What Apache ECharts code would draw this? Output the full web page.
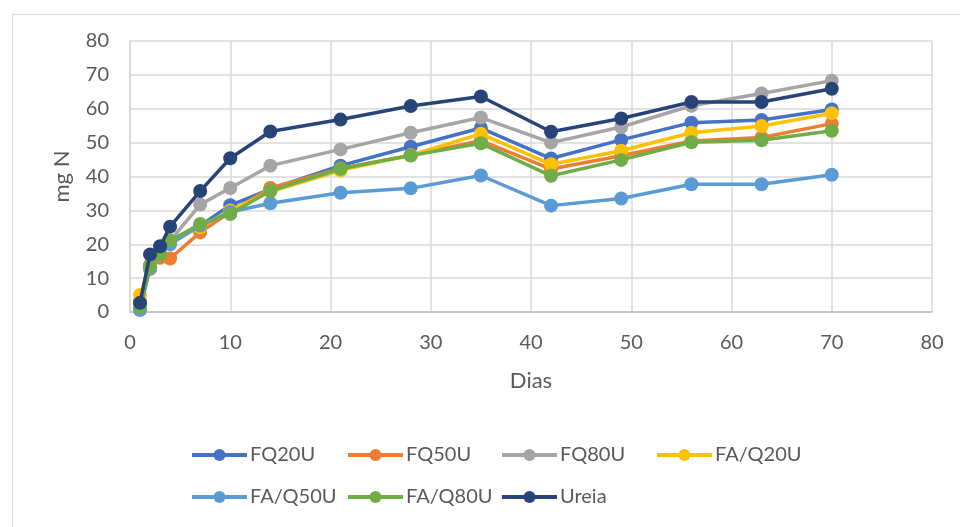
<!DOCTYPE html>
<html>
<head>
<meta charset="utf-8">
<script src="https://cdn.jsdelivr.net/npm/echarts@6/dist/echarts.min.js"></script>
<style>html,body{margin:0;padding:0;background:#fff;}#c{width:960px;height:527px;}</style>
</head>
<body>
<div id="c"></div>
<script>
const days = [1, 2, 3, 4, 7, 10, 14, 21, 28, 35, 42, 49, 56, 63, 70];
const seriesNames = ['FQ20U', 'FQ50U', 'FQ80U', 'FA/Q20U', 'FA/Q50U', 'FA/Q80U', 'Ureia'];
const FQ20U   = [3.0, 13.0, 17.0, 21.0, 25.5, 31.5, 36.3, 43.2, 48.8, 54.3, 45.3, 50.8, 55.9, 56.7, 59.8];
const FQ50U   = [3.0, 12.7, 16.0, 15.8, 23.5, 29.5, 36.6, 42.4, 46.3, 50.6, 42.2, 46.1, 50.5, 51.5, 55.6];
const FQ80U   = [3.0, 14.0, 17.0, 21.0, 31.7, 36.6, 43.2, 48.0, 52.9, 57.4, 50.0, 54.6, 60.9, 64.5, 68.3];
const FAQ20U  = [5.0, 13.0, 17.0, 21.0, 25.0, 30.0, 35.5, 41.8, 46.3, 52.6, 43.6, 47.6, 52.9, 54.9, 58.7];
const FAQ50U  = [0.6, 13.0, 17.0, 20.0, 25.5, 29.5, 32.1, 35.2, 36.5, 40.3, 31.4, 33.5, 37.7, 37.7, 40.5];
const FAQ80U  = [1.5, 13.5, 17.0, 21.0, 26.0, 28.9, 35.8, 42.3, 46.2, 49.8, 40.2, 44.9, 50.1, 50.7, 53.5];
const Ureia   = [2.7, 17.0, 19.4, 25.2, 35.7, 45.4, 53.3, 56.8, 60.8, 63.6, 53.2, 57.1, 62.0, 62.0, 65.9];
const xTicks = [0, 10, 20, 30, 40, 50, 60, 70, 80];
const yTicks = [0, 10, 20, 30, 40, 50, 60, 70, 80];

const values = [FQ20U, FQ50U, FQ80U, FAQ20U, FAQ50U, FAQ80U, Ureia];
const colors = ['#4472C4', '#ED7D31', '#A5A5A5', '#FFC000', '#5B9BD5', '#70AD47', '#264478'];
const FONT = 'Lato';
const TXT = '#595959';

const series = seriesNames.map((n, i) => ({
  name: n,
  type: 'line',
  data: days.map((d, j) => [d, values[i][j]]),
  symbol: 'circle',
  symbolSize: 14,
  lineStyle: { width: 3.5, color: colors[i] },
  itemStyle: { color: colors[i] },
  z: 2 + i,
  animation: false
}));

const legendPos = [
  [190, 445], [346, 445], [500, 445], [655, 445],
  [190, 487], [346, 487], [500, 487]
];
const legends = seriesNames.map((n, i) => ({
  data: [n],
  left: legendPos[i][0],
  top: legendPos[i][1],
  orient: 'horizontal',
  itemWidth: 55,
  itemHeight: 15,
  itemGap: 4,
  padding: 0,
  selectedMode: false,
  lineStyle: { width: 4 },
  textStyle: { fontFamily: FONT, fontSize: 20, color: TXT, padding: [0, 0, 0, -2] }
}));

const chart = echarts.init(document.getElementById('c'), null, { renderer: 'canvas' });
chart.setOption({
  animation: false,
  backgroundColor: '#ffffff',
  graphic: [{
    type: 'rect',
    left: 10, top: 12,
    shape: { width: 1000, height: 600 },
    style: { fill: 'none', stroke: '#d9d9d9', lineWidth: 1 },
    silent: true, z: -1
  }],
  legend: legends,
  grid: { left: 130, right: 28, top: 41, bottom: 215 },
  xAxis: {
    type: 'value',
    min: xTicks[0], max: xTicks[xTicks.length - 1], interval: 10,
    name: 'Dias', nameLocation: 'middle', nameGap: 58,
    nameTextStyle: { fontFamily: FONT, fontSize: 22, color: TXT },
    axisLine: { show: true, lineStyle: { color: '#bfbfbf', width: 1.5 } },
    axisTick: { show: false },
    axisLabel: { fontFamily: FONT, fontSize: 20, color: TXT, margin: 21 },
    splitLine: { show: true, lineStyle: { color: '#d9d9d9', width: 1.5 } }
  },
  yAxis: {
    type: 'value',
    min: yTicks[0], max: yTicks[yTicks.length - 1], interval: 10,
    name: 'mg N', nameLocation: 'middle', nameGap: 57, nameRotate: 90,
    nameTextStyle: { fontFamily: FONT, fontSize: 22, color: TXT },
    axisLine: { show: true, lineStyle: { color: '#d9d9d9', width: 1.5 } },
    axisTick: { show: false },
    axisLabel: { fontFamily: FONT, fontSize: 20, color: TXT, margin: 21 },
    splitLine: { show: true, lineStyle: { color: '#d9d9d9', width: 1.5 } }
  },
  series: series
});
</script>
</body>
</html>
